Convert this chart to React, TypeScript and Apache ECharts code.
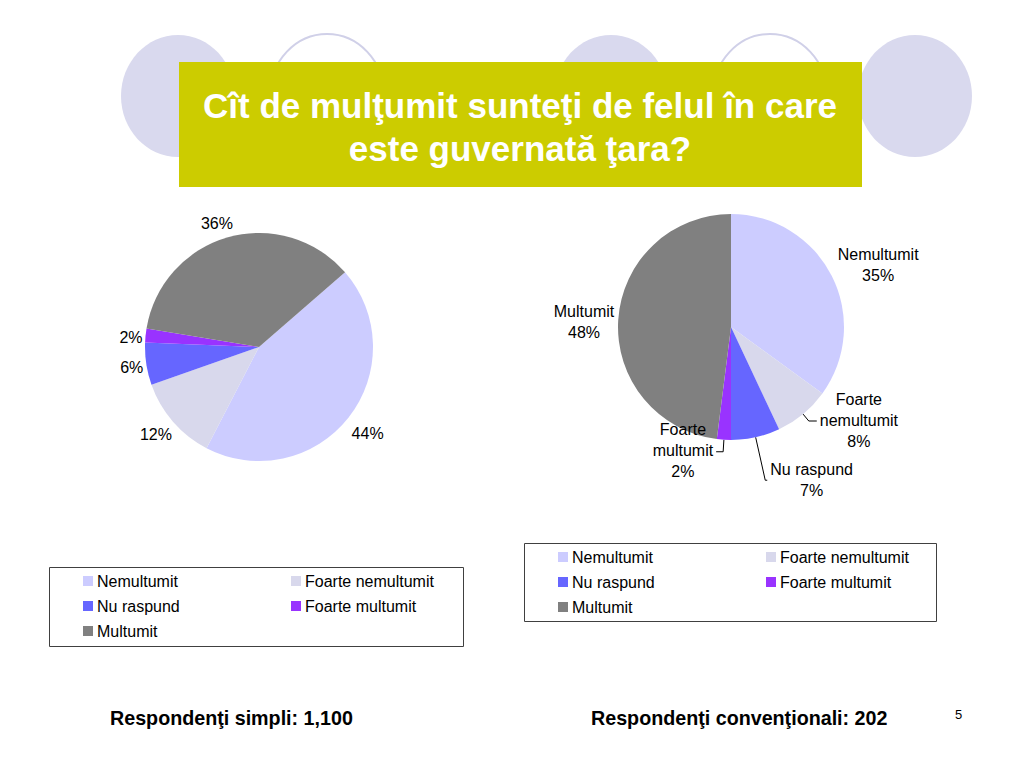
import React, { useEffect, useRef } from "react";
import * as echarts from "echarts";

const categories = ["Nemultumit", "Foarte nemultumit", "Nu raspund", "Foarte multumit", "Multumit"];
const simpliValues = [44, 12, 6, 2, 36];
const conventionaliValues = [35, 8, 7, 2, 48];
const colors = ["#ccccff", "#d8d8ec", "#6666ff", "#9933ff", "#808080"];
const titleLines = ["Cît de mulţumit sunteţi de felul în care", "este guvernată ţara?"];
const footLeft = "Respondenţi simpli: 1,100";
const footRight = "Respondenţi convenţionali: 202";
const pageNumber = "5";

const FONT = "'Liberation Sans', Arial, sans-serif";

// label nudges (dx, dy) per slice, in data order
const leftLabelNudge = [
  [3, 16],
  [-1, 13],
  [-3, 3],
  [-3, 2],
  [5, -14],
];
const rightLabelNudge = [
  [3, -11],
  [0, -1],
  [0, 0],
  [0, -1],
  [-1, 2],
];

export default function App() {
  const ref = useRef<HTMLDivElement>(null);
  useEffect(() => {
    if (!ref.current) return;
    const chart = echarts.init(ref.current, null, { renderer: "svg" });

    const circleFill = "#d9d9ee";
    const circles = [
      { cx: 178, cy: 96, fill: true },
      { cx: 327, cy: 95, fill: false },
      { cx: 611, cy: 96, fill: true },
      { cx: 770, cy: 95, fill: false },
      { cx: 915, cy: 96, fill: true },
    ].map((c) => ({
      type: "ellipse",
      shape: { cx: c.cx, cy: c.cy, rx: 57, ry: 61 },
      style: c.fill
        ? { fill: circleFill, stroke: "none" }
        : { fill: "#ffffff", stroke: "#d0d0e8", lineWidth: 2 },
      z: 0,
      silent: true,
    }));

    const legendBoxes = [
      { x: 49, y: 567, w: 414, h: 79 },
      { x: 524, y: 543, w: 412, h: 78 },
    ].map((b) => ({
      type: "rect",
      shape: { x: b.x + 0.5, y: b.y + 0.5, width: b.w, height: b.h },
      style: { fill: "#ffffff", stroke: "#404040", lineWidth: 1 },
      z: 0,
      silent: true,
    }));

    const data = (vals: number[], withLines: boolean) =>
      categories.map((name, i) => {
        const item: any = { name, value: vals[i], itemStyle: { color: colors[i] } };
        if (withLines) {
          if (name === "Foarte nemultumit") item.labelLine = { show: true, length: 9, length2: 8 };
          else if (name === "Nu raspund") item.labelLine = { show: true, length: 44, length2: 2 };
          else if (name === "Foarte multumit") item.labelLine = { show: true, length: 12, length2: 7 };
          else item.labelLine = { show: false, length: 0, length2: 0 };
        }
        return item;
      });

    const labelText = {
      color: "#000000",
      fontFamily: FONT,
      fontSize: 16,
      lineHeight: 21,
    };

    const legendCommon = {
      orient: "vertical",
      icon: "rect",
      itemWidth: 10,
      itemHeight: 10,
      itemGap: 9,
      padding: 0,
      selectedMode: false,
      textStyle: { color: "#000000", fontFamily: FONT, fontSize: 16, lineHeight: 16, padding: [0, 0, 0, -1] },
    };

    chart.setOption({
      animation: false,
      backgroundColor: "#ffffff",
      graphic: [
        ...circles,
        {
          type: "rect",
          shape: { x: 179, y: 62, width: 683, height: 125 },
          style: { fill: "#cccc00" },
          z: 1,
          silent: true,
        },
        {
          type: "text",
          x: 520,
          y: 105,
          style: {
            text: titleLines[0],
            fill: "#ffffff",
            font: `bold 35px ${FONT}`,
            textAlign: "center",
            textVerticalAlign: "middle",
          },
          z: 2,
        },
        {
          type: "text",
          x: 520,
          y: 148,
          style: {
            text: titleLines[1],
            fill: "#ffffff",
            font: `bold 35px ${FONT}`,
            textAlign: "center",
            textVerticalAlign: "middle",
          },
          z: 2,
        },
        ...legendBoxes,
        {
          type: "text",
          x: 110,
          y: 718,
          style: { text: footLeft, fill: "#000000", font: `bold 19.7px ${FONT}`, textVerticalAlign: "middle" },
        },
        {
          type: "text",
          x: 591,
          y: 718,
          style: { text: footRight, fill: "#000000", font: `bold 19.7px ${FONT}`, textVerticalAlign: "middle" },
        },
        {
          type: "text",
          x: 955,
          y: 714,
          style: { text: pageNumber, fill: "#000000", font: `13px ${FONT}`, textVerticalAlign: "middle" },
        },
      ],
      legend: [
        { ...legendCommon, left: 83, top: 573, data: [categories[0], categories[2], categories[4]] },
        { ...legendCommon, left: 291, top: 573, data: [categories[1], categories[3]] },
        { ...legendCommon, left: 558, top: 549, data: [categories[0], categories[2], categories[4]] },
        { ...legendCommon, left: 766, top: 549, data: [categories[1], categories[3]] },
      ],
      series: [
        {
          type: "pie",
          center: [259, 347],
          radius: 114,
          startAngle: 41,
          clockwise: true,
          avoidLabelOverlap: false,
          label: {
            show: true,
            position: "outside",
            formatter: "{c}%",
            distanceToLabelLine: 0,
            ...labelText,
          },
          labelLine: { show: false, length: 0, length2: 0 },
          labelLayout: (p: any) => ({ dx: leftLabelNudge[p.dataIndex][0], dy: leftLabelNudge[p.dataIndex][1] }),
          emphasis: { disabled: true },
          data: data(simpliValues, false),
        },
        {
          type: "pie",
          center: [731, 327],
          radius: 113,
          startAngle: 90,
          clockwise: true,
          avoidLabelOverlap: false,
          label: {
            show: true,
            position: "outside",
            distanceToLabelLine: 3,
            formatter: (p: any) => {
              const n = p.name.startsWith("Foarte") ? p.name.replace(" ", "\n") : p.name;
              return n
                .split("\n")
                .concat([p.value + "%"])
                .map((s: string) => `{c|${s}}`)
                .join("\n");
            },
            rich: { c: { align: "center", ...labelText } },
            ...labelText,
          },
          labelLine: { show: true, length: 0, length2: 0, lineStyle: { color: "#000000", width: 1 } },
          labelLayout: (p: any) => ({ dx: rightLabelNudge[p.dataIndex][0], dy: rightLabelNudge[p.dataIndex][1] }),
          emphasis: { disabled: true },
          data: data(conventionaliValues, true),
        },
      ],
    });
    return () => chart.dispose();
  }, []);
  return (
    <div
      ref={ref}
      style={{ position: "fixed", left: 0, top: 0, width: 1024, height: 768, background: "#fff" }}
    />
  );
}
